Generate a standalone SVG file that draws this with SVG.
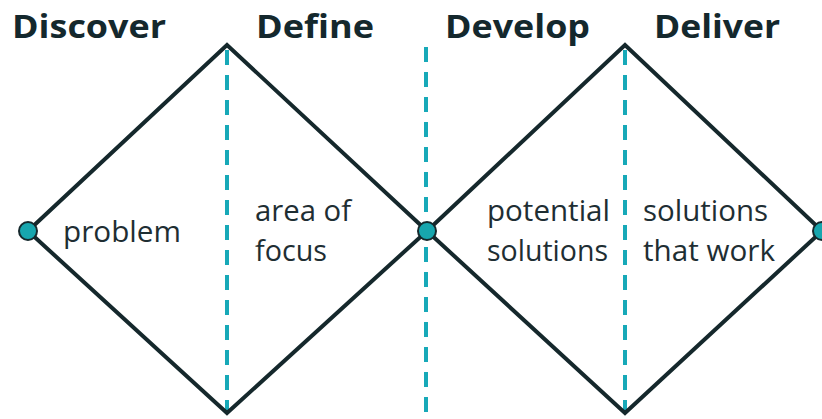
<svg xmlns="http://www.w3.org/2000/svg" width="822" height="419" viewBox="0 0 822 419">
<style>
.t{font-family:"Open Sans","Liberation Sans",sans-serif;font-weight:bold;font-size:32px;fill:#14282d}
.l{font-family:"Open Sans","Liberation Sans",sans-serif;font-size:29px;fill:#1e2e33}
.d{stroke:#17a9b8;stroke-width:4;stroke-dasharray:15 10;fill:none}
.s{stroke:#15282c;stroke-width:4;fill:none;stroke-linejoin:miter}
.c{fill:#17a6ae;stroke:#15282c;stroke-width:2}
</style>
<rect width="822" height="419" fill="#fff"/>
<g id="titles">
<text class="t" x="12" y="38" textLength="154" lengthAdjust="spacingAndGlyphs">Discover</text>
<text class="t" x="256" y="38" textLength="118" lengthAdjust="spacingAndGlyphs">Define</text>
<text class="t" x="445" y="38" textLength="145" lengthAdjust="spacingAndGlyphs">Develop</text>
<text class="t" x="654" y="38" textLength="126" lengthAdjust="spacingAndGlyphs">Deliver</text>
</g>
<g id="connectors">
<line class="d" x1="227" y1="50" x2="227" y2="413"/>
<line class="d" x1="426" y1="47" x2="426" y2="419"/>
<line class="d" x1="625" y1="50" x2="625" y2="413"/>
<polygon id="diamond1" class="s" points="28,231 227,45 427,231 227,413"/>
<polygon id="diamond2" class="s" points="427,231 625,45 822,231 625,413"/>
</g>
<g id="node-start"><circle class="c" cx="28" cy="231" r="9"/></g>
<g id="node-mid"><circle class="c" cx="427" cy="231" r="9"/></g>
<g id="node-end"><circle class="c" cx="822" cy="231" r="9"/></g>
<g id="labels">
<text class="l" x="63" y="242" textLength="118" lengthAdjust="spacingAndGlyphs">problem</text>
<text class="l" x="255" y="221" textLength="96" lengthAdjust="spacingAndGlyphs">area of</text>
<text class="l" x="255" y="261" textLength="72" lengthAdjust="spacingAndGlyphs">focus</text>
<text class="l" x="487" y="221" textLength="123" lengthAdjust="spacingAndGlyphs">potential</text>
<text class="l" x="487" y="261" textLength="121" lengthAdjust="spacingAndGlyphs">solutions</text>
<text class="l" x="643" y="221" textLength="125" lengthAdjust="spacingAndGlyphs">solutions</text>
<text class="l" x="643" y="261" textLength="132" lengthAdjust="spacingAndGlyphs">that work</text>
</g>
</svg>
